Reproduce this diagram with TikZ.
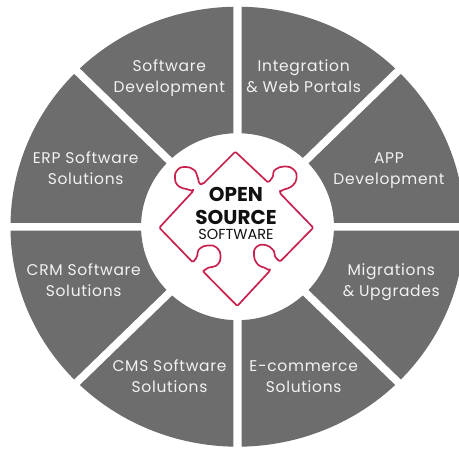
\documentclass[tikz,border=0pt]{standalone}
\usepackage{fontspec}
\setmainfont{Poppins}
\newfontfamily\labelfont{Poppins}[LetterSpace=4.5]
\definecolor{sectorgray}{HTML}{6D6D6D}
\definecolor{labelwhite}{HTML}{F2F2F2}
\definecolor{puzzlered}{HTML}{C8234F}
\definecolor{ink}{HTML}{111111}
\newcommand{\sector}[2]{%
  \fill[sectorgray] ({#1+1.02}:220) arc[start angle={#1+1.02},end angle={#2-1.02},radius=220]
    -- ({#2-2.4}:93.5) arc[start angle={#2-2.4},end angle={#1+2.4},radius=93.5] -- cycle;}
\newcommand{\twolines}[2]{\strut #1\strut\\\strut #2\strut}
\tikzset{
  seclabel/.style={text=labelwhite,align=center,inner sep=0pt,font=\labelfont\fontsize{15.5}{21}\selectfont},
  puzzle/.style={draw=puzzlered,line width=1.7pt,line join=round,rounded corners=1.2pt},
  hubbig/.style={text=ink,inner sep=0pt,font=\fontsize{20}{20}\selectfont\bfseries},
  hubsmall/.style={text=ink,inner sep=0pt,font=\fontsize{14.5}{15}\selectfont}
}
\begin{document}
\begin{tikzpicture}[x=1pt,y=1pt]
\useasboundingbox (0,0) rectangle (459,-449);
\clip (0,0) rectangle (459,-449);
\fill[white] (0,0) rectangle (459,-449);
\begin{scope}[shift={(237.5,-226.7)},xscale=1.032]
  \foreach \a in {0,45,...,315} {\sector{\a}{\a+45}}
\end{scope}
\draw[puzzle]
  (235.3,-151.7) -- (268.3,-182.7)
  -- plot[smooth,tension=0.8] coordinates {(268.3,-182.7) (272.5,-177) (275,-170) (285,-166.5) (294,-170) (296.5,-178) (292,-186) (283,-190) (280,-192)}
  -- (280.5,-193.8) -- (313.3,-227.7) -- (280,-261.7)
  -- plot[smooth,tension=0.8] coordinates {(280,-261.7) (275.5,-257) (273,-250) (265,-245) (256.5,-247) (254,-255) (257.5,-264) (265,-268) (270,-270.7)}
  -- (237.3,-306) -- (203.3,-271.7)
  -- plot[smooth,tension=0.8] coordinates {(203.3,-271.7) (208,-268) (217,-265) (220.5,-256.7) (217,-248) (208.3,-245.5) (199.5,-249) (197,-256) (195,-260.5)}
  -- (192.5,-262) -- (159.3,-227.7) -- (193.3,-191)
  -- plot[smooth,tension=0.8] coordinates {(193.3,-191) (188,-189.5) (178.5,-186) (175,-178) (177.5,-170) (185,-167) (194,-170) (197.5,-177) (199.5,-183) (202.7,-184.3)}
  -- cycle;
\node[hubbig] (open) at (236,-194.5) {OPEN};
\node[hubbig] (source) at (236,-217.5) {SOURCE};
\node[hubsmall] (soft) at (236,-234.5) {SOFTWARE};
\node[seclabel] (dev) at (169.3,-77.5) {\twolines{Software}{Development}};
\node[seclabel] (web) at (303.7,-77.5) {\twolines{Integration}{\& Web Portals}};
\node[seclabel] (erp) at (85.7,-170) {\twolines{ERP Software}{Solutions}};
\node[seclabel] (app) at (389,-170) {\twolines{APP}{Development}};
\node[seclabel] (crm) at (83.7,-282) {\twolines{CRM Software}{Solutions}};
\node[seclabel] (mig) at (391.3,-282) {\twolines{Migrations}{\& Upgrades}};
\node[seclabel] (cms) at (169.5,-378) {\twolines{CMS Software}{Solutions}};
\node[seclabel] (eco) at (303.7,-378) {\twolines{E-commerce}{Solutions}};
\end{tikzpicture}
\end{document}
